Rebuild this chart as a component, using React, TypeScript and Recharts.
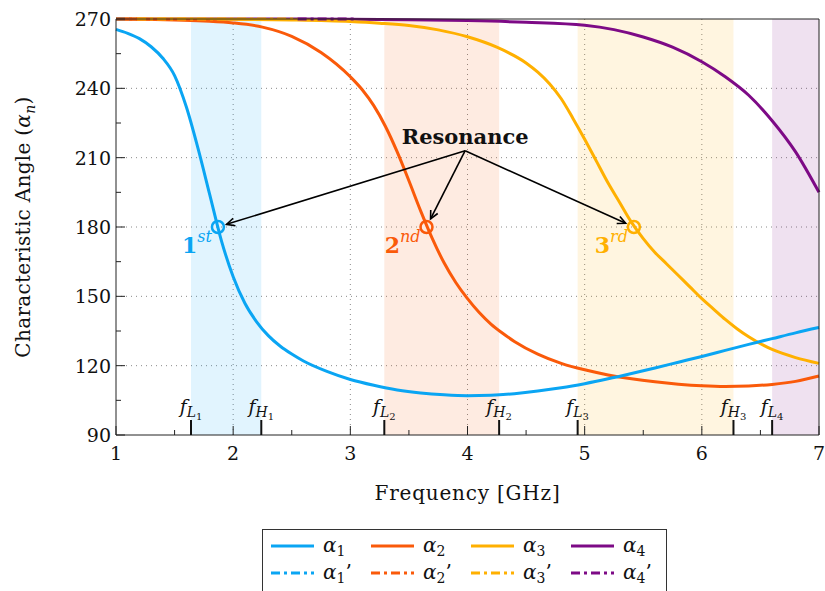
import {
  ComposedChart,
  Line,
  XAxis,
  YAxis,
  CartesianGrid,
  ReferenceArea,
  ReferenceDot,
  ReferenceLine,
} from 'recharts';

const FONT = "'DejaVu Serif', serif";
const INK = '#222';
const serif = { fontFamily: FONT };

// series colours
const blue = '#0aa5f3';
const orange = '#fa5a0a';
const yellow = '#ffb000';
const purple = '#7d0a86';

// α1
const alpha1Freq = [1.0, 1.1, 1.2, 1.3, 1.4, 1.5, 1.6, 1.7, 1.8, 1.9, 2.0, 2.1, 2.2, 2.3, 2.4, 2.5, 2.6, 2.8, 3.0, 3.2, 3.4, 3.6, 3.8, 4.0, 4.2, 4.4, 4.6, 4.8, 5.0, 5.2, 5.4, 5.6, 5.8, 6.0, 6.2, 6.4, 6.6, 6.8, 7.0];
const alpha1Vals = [265.5, 263.8, 261.5, 258, 253, 245.5, 232, 214, 194, 174, 158.5, 147, 139, 133, 128.5, 125, 122, 117.5, 114, 111.5, 109.5, 108.2, 107.4, 107, 107.2, 107.9, 109, 110.4, 112.2, 114.3, 116.6, 119, 121.5, 124, 126.6, 129.2, 131.7, 134.2, 136.5];

// α2
const alpha2Freq = [1.0, 1.25, 1.5, 1.75, 2.0, 2.25, 2.5, 2.75, 3.0, 3.1, 3.2, 3.3, 3.4, 3.5, 3.6, 3.7, 3.8, 3.9, 4.0, 4.1, 4.2, 4.3, 4.4, 4.6, 4.8, 5.0, 5.2, 5.4, 5.6, 5.8, 6.0, 6.2, 6.4, 6.6, 6.8, 7.0];
const alpha2Vals = [270, 269.9, 269.6, 269.1, 268.3, 266.5, 262.5, 255.5, 245, 239.5, 232.5, 223.5, 212.5, 200, 187, 175, 164.5, 156, 149, 143, 138, 134, 130.5, 125, 121, 118.2, 116, 114.3, 113, 112, 111.3, 111, 111.2, 111.9, 113.2, 115.5];

// α3
const alpha3Freq = [1.0, 1.5, 2.0, 2.5, 3.0, 3.25, 3.5, 3.75, 4.0, 4.25, 4.5, 4.6, 4.7, 4.8, 4.9, 5.0, 5.1, 5.2, 5.3, 5.4, 5.5, 5.6, 5.7, 5.8, 5.9, 6.0, 6.1, 6.2, 6.3, 6.4, 6.6, 6.8, 7.0];
const alpha3Vals = [270, 270, 269.9, 269.6, 268.9, 268.2, 267.2, 265.3, 262.3, 257.8, 251, 247, 242, 235.5, 227, 218, 208.5, 199, 190.5, 182, 175, 169, 164, 159, 154, 149, 144.5, 140, 136, 132.5, 127, 123.5, 121];

// α4
const alpha4Freq = [1.0, 2.0, 3.0, 3.5, 4.0, 4.5, 5.0, 5.25, 5.5, 5.75, 6.0, 6.2, 6.4, 6.6, 6.8, 7.0];
const alpha4Vals = [270, 270, 269.9, 269.7, 269.3, 268.6, 267.3, 265.4, 262.2, 257.8, 251.5, 245, 237, 226, 212.5, 195];

// primed series (only visible along the top edge)
const alpha1pFreq = [1.0, 1.12];
const alpha1pVals = [270, 270];
const alpha2pFreq = [1.0, 1.18];
const alpha2pVals = [270, 270];
const alpha3pFreq = [1.18, 2.55];
const alpha3pVals = [270, 270];
const alpha4pFreq = [2.55, 3.05];
const alpha4pVals = [270, 270];

const xTicks = [1, 1.5, 2, 2.5, 3, 3.5, 4, 4.5, 5, 5.5, 6, 6.5, 7];
const yTicks = [90, 105, 120, 135, 150, 165, 180, 195, 210, 225, 240, 255, 270];
const xGrid = [2, 3, 4, 5, 6];
const yGrid = [120, 150, 180, 210, 240];

// operating bands
const bandLo = [1.64, 3.29, 4.94, 6.6];
const bandHi = [2.24, 4.27, 6.27, 7.0];
const bandColor = [blue, orange, yellow, purple];
const bandOpacity = [0.12, 0.12, 0.12, 0.12];

const edgeFreq = [1.64, 2.24, 3.29, 4.27, 4.94, 6.27, 6.6];
const edgeKind = ['L', 'H', 'L', 'H', 'L', 'H', 'L'];
const edgeIdx = ['1', '1', '2', '2', '3', '3', '4'];

// resonances
const resFreq = [1.87, 3.65, 5.42];
const resVal = [180, 180, 180];
const resColor = [blue, orange, yellow];
const resNum = ['1', '2', '3'];
const resSup = ['st', 'nd', 'rd'];
const calloutFreq = 3.98;
const calloutVal = 213;

const toPts = (f: number[], v: number[]) => f.map((x, i) => ({ f: x, v: v[i] }));

const DASHDOT = '9 4 3 4';
const series = [
  { key: 'a4', data: toPts(alpha4Freq, alpha4Vals), color: purple, dash: undefined },
  { key: 'a3', data: toPts(alpha3Freq, alpha3Vals), color: yellow, dash: undefined },
  { key: 'a2', data: toPts(alpha2Freq, alpha2Vals), color: orange, dash: undefined },
  { key: 'a1', data: toPts(alpha1Freq, alpha1Vals), color: blue, dash: undefined },
  { key: 'a1p', data: toPts(alpha1pFreq, alpha1pVals), color: blue, dash: DASHDOT },
  { key: 'a2p', data: toPts(alpha2pFreq, alpha2pVals), color: orange, dash: DASHDOT },
  { key: 'a3p', data: toPts(alpha3pFreq, alpha3pVals), color: yellow, dash: DASHDOT },
  { key: 'a4p', data: toPts(alpha4pFreq, alpha4pVals), color: purple, dash: DASHDOT },
];

const isInt = (v: number) => Math.abs(v - Math.round(v)) < 1e-6;
const isMajorY = (v: number) => Math.abs(v % 30) < 1e-6;

const BottomTick = (p: any) => {
  const { x, y, payload } = p;
  const major = isInt(payload.value);
  return (
    <g>
      <line x1={x} x2={x} y1={y} y2={y - (major ? 9 : 5)} stroke={INK} strokeWidth={1} />
      {major && (
        <text x={x} y={y + 25} textAnchor="middle" style={serif} fontSize={19} fill="#111">
          {payload.value}
        </text>
      )}
    </g>
  );
};

const TopTick = (p: any) => {
  const { x, y, payload } = p;
  const major = isInt(payload.value);
  return <line x1={x} x2={x} y1={y} y2={y + (major ? 9 : 5)} stroke={INK} strokeWidth={1} />;
};

const LeftTick = (p: any) => {
  const { x, y, payload } = p;
  const major = isMajorY(payload.value);
  return (
    <g>
      <line x1={x} x2={x + (major ? 9 : 5)} y1={y} y2={y} stroke={INK} strokeWidth={1} />
      {major && (
        <text x={x - 5} y={y + 7} textAnchor="end" style={serif} fontSize={19} fill="#111">
          {payload.value}
        </text>
      )}
    </g>
  );
};

const RightTick = (p: any) => {
  const { x, y, payload } = p;
  const major = isMajorY(payload.value);
  return <line x1={x} x2={x - (major ? 9 : 5)} y1={y} y2={y} stroke={INK} strokeWidth={1} />;
};

const XTitle = (p: any) => {
  const { x, y, width } = p.viewBox;
  return (
    <text x={x + width / 2} y={y + 65} textAnchor="middle" style={serif} fontSize={20} fill="#111" letterSpacing={0.8}>
      Frequency [GHz]
    </text>
  );
};

const YTitle = (p: any) => {
  const { y, height } = p.viewBox;
  const cx = 30;
  const cy = y + height / 2;
  return (
    <text
      x={cx}
      y={cy}
      textAnchor="middle"
      transform={`rotate(-90, ${cx}, ${cy})`}
      style={serif}
      fontSize={20}
      fill="#111"
      letterSpacing={0.3}
    >
      Characteristic Angle (<tspan fontStyle="italic">α</tspan>
      <tspan fontStyle="italic" fontSize={14} dy={5}>n</tspan>
      <tspan dy={-5}>)</tspan>
    </text>
  );
};

const EdgeLabel = (p: any) => {
  const { viewBox, kind, idx } = p;
  const cx = viewBox.x + viewBox.width / 2;
  const cy = viewBox.y + viewBox.height / 2;
  return (
    <g>
      <line x1={cx} x2={cx} y1={cy} y2={cy - 15} stroke="#111" strokeWidth={2} />
      <text x={cx} y={cy - 22} textAnchor="middle" style={serif} fill="#111">
        <tspan fontStyle="italic" fontSize={19}>f</tspan>
        <tspan fontStyle="italic" fontSize={14} dy={4}>{kind}</tspan>
        <tspan fontSize={10} dy={3}>{idx}</tspan>
      </text>
    </g>
  );
};

const ResLabel = (p: any) => {
  const { viewBox, num, sup, color } = p;
  const cx = viewBox.x + viewBox.width / 2;
  const cy = viewBox.y + viewBox.height / 2;
  return (
    <text x={cx - 6} y={cy + 26} textAnchor="end" style={serif} fill={color}>
      <tspan fontWeight="bold" fontSize={22}>{num}</tspan>
      <tspan fontStyle="italic" fontSize={16} dy={-11}>{sup}</tspan>
    </text>
  );
};

const CalloutLabel = (p: any) => {
  const { viewBox } = p;
  const cx = viewBox.x + viewBox.width / 2;
  const cy = viewBox.y + viewBox.height / 2;
  return (
    <text x={cx} y={cy - 7} textAnchor="middle" style={serif} fontWeight="bold" fontSize={21} fill="#111">
      Resonance
    </text>
  );
};

const Arrow = (p: any) => {
  const { x1, y1, x2, y2 } = p;
  const dx = x2 - x1;
  const dy = y2 - y1;
  const len = Math.sqrt(dx * dx + dy * dy) || 1;
  const ux = dx / len;
  const uy = dy / len;
  const ex = x2 - ux * 9;
  const ey = y2 - uy * 9;
  const h = 9;
  const a = Math.PI / 7;
  const rot = (ang: number) => [
    ex - h * (ux * Math.cos(ang) - uy * Math.sin(ang)),
    ey - h * (ux * Math.sin(ang) + uy * Math.cos(ang)),
  ];
  const [lx, ly] = rot(a);
  const [rx, ry] = rot(-a);
  return (
    <g>
      <line x1={x1} y1={y1} x2={ex} y2={ey} stroke="#000" strokeWidth={1.6} />
      <polyline points={`${lx},${ly} ${ex},${ey} ${rx},${ry}`} fill="none" stroke="#000" strokeWidth={1.6} />
    </g>
  );
};

const legendNames = ['1', '2', '3', '4', '1', '2', '3', '4'];
const legendColors = [blue, orange, yellow, purple, blue, orange, yellow, purple];
const legendPrimed = [false, false, false, false, true, true, true, true];

function ChartLegend() {
  return (
    <div
      style={{
        position: 'absolute',
        left: 262,
        top: 529,
        width: 405,
        height: 64,
        border: '1px solid #333',
        boxSizing: 'border-box',
        background: '#fff',
      }}
    >
      <svg width={405} height={64} style={{ display: 'block' }}>
        {legendNames.map((name, i) => {
          const col = i % 4;
          const row = Math.floor(i / 4);
          const x0 = 8 + col * 100;
          const yy = 16 + row * 27;
          return (
            <g key={i}>
              <line
                x1={x0}
                x2={x0 + 43}
                y1={yy}
                y2={yy}
                stroke={legendColors[i]}
                strokeWidth={3}
                strokeDasharray={legendPrimed[i] ? DASHDOT : undefined}
              />
              <text x={x0 + 52} y={yy + 6} style={serif} fontSize={20} fill="#111">
                <tspan fontStyle="italic">α</tspan>
                <tspan fontSize={14} dy={4}>{name}</tspan>
                {legendPrimed[i] ? <tspan dy={-4}>’</tspan> : null}
              </text>
            </g>
          );
        })}
      </svg>
    </div>
  );
}

export default function App() {
  return (
    <div style={{ position: 'absolute', left: 0, top: 0, width: 825, height: 591, background: '#fff' }}>
      <ComposedChart width={825} height={591} margin={{ top: 18, right: 5, bottom: 86, left: 0 }}>
        {bandLo.map((lo, i) => (
          <ReferenceArea
            key={`band${i}`}
            xAxisId="b"
            yAxisId="l"
            x1={lo}
            x2={bandHi[i]}
            y1={90}
            y2={270}
            fill={bandColor[i]}
            fillOpacity={bandOpacity[i]}
            stroke="none"
          />
        ))}
        <CartesianGrid
          xAxisId="b"
          yAxisId="l"
          verticalValues={xGrid}
          horizontalValues={yGrid}
          stroke="#8a8a8a"
          strokeDasharray="1 4"
        />
        <XAxis
          xAxisId="b"
          dataKey="f"
          type="number"
          domain={[1, 7]}
          ticks={xTicks}
          interval={0}
          tickSize={0}
          tickMargin={0}
          tick={<BottomTick />}
          height={70}
          stroke={INK}
          allowDuplicatedCategory={false}
          label={<XTitle />}
        />
        <XAxis
          xAxisId="t"
          orientation="top"
          dataKey="f"
          type="number"
          domain={[1, 7]}
          ticks={xTicks}
          interval={0}
          tickSize={0}
          tickMargin={0}
          tick={<TopTick />}
          height={1}
          stroke={INK}
        />
        <YAxis
          yAxisId="l"
          type="number"
          domain={[90, 270]}
          ticks={yTicks}
          interval={0}
          tickSize={0}
          tickMargin={0}
          tick={<LeftTick />}
          width={116}
          stroke={INK}
          label={<YTitle />}
        />
        <YAxis
          yAxisId="r"
          orientation="right"
          type="number"
          domain={[90, 270]}
          ticks={yTicks}
          interval={0}
          tickSize={0}
          tickMargin={0}
          tick={<RightTick />}
          width={1}
          stroke={INK}
        />
        {series.map((s) => (
          <Line
            key={s.key}
            xAxisId="b"
            yAxisId="l"
            data={s.data}
            dataKey="v"
            type="monotone"
            stroke={s.color}
            strokeWidth={3}
            strokeDasharray={s.dash}
            dot={false}
            activeDot={false}
            isAnimationActive={false}
          />
        ))}
        {edgeFreq.map((f, i) => (
          <ReferenceDot
            key={`edge${i}`}
            xAxisId="b"
            yAxisId="l"
            x={f}
            y={90}
            r={0}
            stroke="none"
            fill="none"
            label={<EdgeLabel kind={edgeKind[i]} idx={edgeIdx[i]} />}
          />
        ))}
        {resFreq.map((f, i) => (
          <ReferenceLine
            key={`arrow${i}`}
            xAxisId="b"
            yAxisId="l"
            segment={[
              { x: calloutFreq, y: calloutVal },
              { x: f, y: resVal[i] },
            ]}
            shape={<Arrow />}
          />
        ))}
        {resFreq.map((f, i) => (
          <ReferenceDot
            key={`res${i}`}
            xAxisId="b"
            yAxisId="l"
            x={f}
            y={resVal[i]}
            r={6}
            fill="none"
            stroke={resColor[i]}
            strokeWidth={2.5}
            label={<ResLabel num={resNum[i]} sup={resSup[i]} color={resColor[i]} />}
          />
        ))}
        <ReferenceDot
          xAxisId="b"
          yAxisId="l"
          x={calloutFreq}
          y={calloutVal}
          r={0}
          fill="none"
          stroke="none"
          label={<CalloutLabel />}
        />
      </ComposedChart>
      <ChartLegend />
    </div>
  );
}
